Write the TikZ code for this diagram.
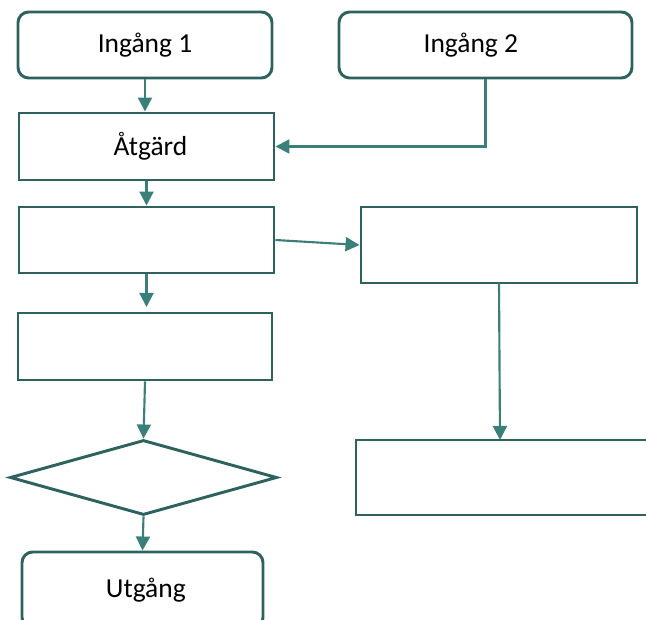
\documentclass[tikz,border=0pt]{standalone}
\usepackage{fontspec}
\setmainfont{Carlito}
\usetikzlibrary{arrows.meta,shapes.geometric}
\definecolor{boxline}{HTML}{2E625E}
\definecolor{arrowline}{HTML}{3A7F78}
\tikzset{
  px/.style={x=0.75pt,y=-0.75pt},
  box/.style={draw=boxline,line width=2.2pt,fill=white,inner sep=0pt,
    font=\fontsize{20.6}{24}\selectfont,text=black},
  roundbox/.style={box,rounded corners=8pt},
  decision/.style={box,diamond},
  conn/.style={draw=arrowline,line width=1.6pt,
    -{Triangle[length=10.5pt,width=10.5pt]}},
}
\begin{document}
\begin{tikzpicture}[px]
\useasboundingbox (0,0) rectangle (646,620);
\clip (0,0) rectangle (646,620);
\node[roundbox,minimum width=254*0.75pt,minimum height=66*0.75pt] (i1) at (145,45) {Ingång 1};
\node[roundbox,minimum width=293*0.75pt,minimum height=66*0.75pt,
  label={[font=\fontsize{20.6}{24}\selectfont,xshift=-11pt]center:Ingång 2}] (i2) at (485.5,45) {};
\node[box,minimum width=255*0.75pt,minimum height=67*0.75pt] (a) at (146.5,146.5) {\hspace{6pt}Åtgärd};
\node[box,minimum width=255*0.75pt,minimum height=66*0.75pt] (b3) at (146.5,240) {};
\node[box,minimum width=276*0.75pt,minimum height=76*0.75pt] (r1) at (499,245) {};
\node[box,minimum width=254*0.75pt,minimum height=67*0.75pt] (b4) at (145,346.5) {};
\node[decision,minimum width=267*0.75pt,minimum height=75*0.75pt] (d) at (143.5,477.5) {};
\node[box,minimum width=364*0.75pt,minimum height=75*0.75pt] (r2) at (538,477.5) {};
\node[roundbox,minimum width=241*0.75pt,minimum height=76*0.75pt] (u) at (142.5,590) {\hspace{5pt}Utgång};
\coordinate (b4top) at (146.5,307);
\coordinate (r2top) at (500,440);
\coordinate (r1bot) at (499,283);
\draw[conn] (i1.south) -- (i1.south |- a.north);
\draw[conn] (i2.south) |- (a.east);
\draw[conn] (a.south) -- (b3.north);
\draw[conn] (b3.east) -- (r1.west);
\draw[conn] (b3.south) -- (b4top);
\draw[conn] (r1bot) -- (r2top);
\draw[conn] (b4.south) -- (d.north);
\draw[conn] (d.south) -- (u.north);
\end{tikzpicture}
\end{document}
